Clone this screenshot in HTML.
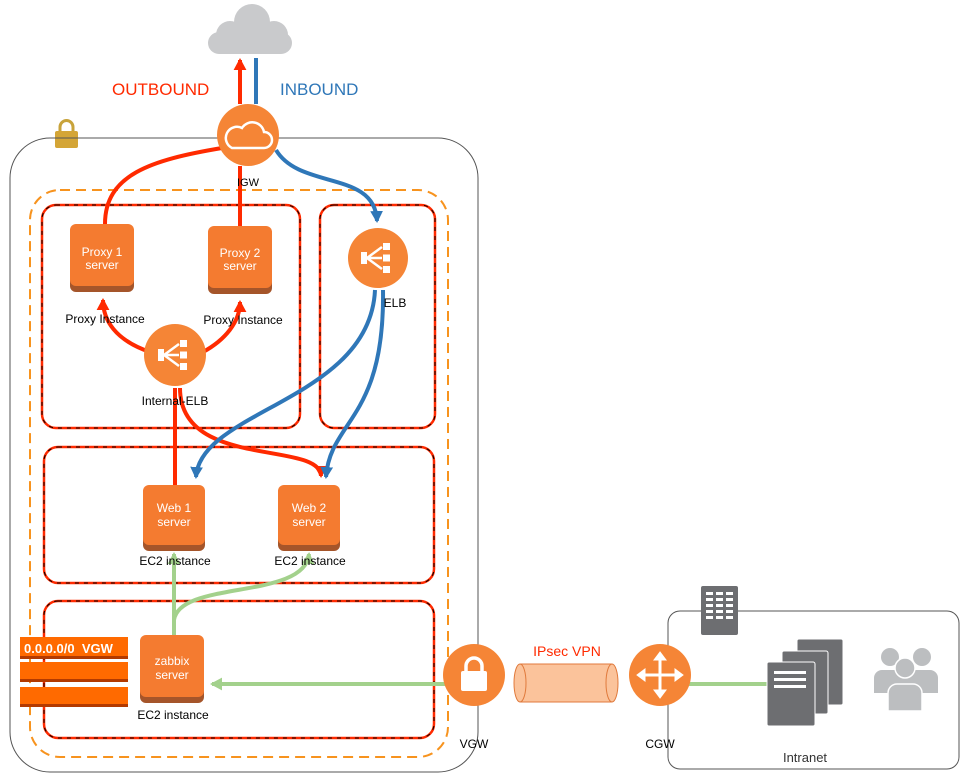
<!DOCTYPE html>
<html><head><meta charset="utf-8"><style>
html,body{margin:0;padding:0;background:#fff;}
svg{display:block;font-family:"Liberation Sans","DejaVu Sans",sans-serif;}
</style></head><body>
<svg width="971" height="781" viewBox="0 0 971 781" xmlns="http://www.w3.org/2000/svg">
<defs>
<marker id="ar" markerWidth="4" markerHeight="4" refX="2.5" refY="1.6" orient="auto" markerUnits="strokeWidth"><path d="M0,0 L3,1.6 L0,3.2 Z" fill="#ff2a00"/></marker>
<marker id="ab" markerWidth="4" markerHeight="4" refX="2.5" refY="1.6" orient="auto" markerUnits="strokeWidth"><path d="M0,0 L3,1.6 L0,3.2 Z" fill="#2f77b8"/></marker>
<marker id="ag" markerWidth="4" markerHeight="4" refX="2.5" refY="1.6" orient="auto" markerUnits="strokeWidth"><path d="M0,0 L3,1.6 L0,3.2 Z" fill="#a3d18c"/></marker>
<g id="lb">
<rect x="-17" y="-6" width="6" height="12" fill="#fff"/>
<path d="M-11,0 L4,-11 M-11,0 L4,0 M-11,0 L4,11" stroke="#fff" stroke-width="2.5" fill="none"/>
<rect x="5" y="-15" width="7" height="7" fill="#fff"/><rect x="5" y="-3.5" width="7" height="7" fill="#fff"/><rect x="5" y="8" width="7" height="7" fill="#fff"/>
</g>
</defs>

<!-- cloud -->
<g fill="#c9cacc">
<circle cx="230" cy="35" r="14"/><circle cx="252" cy="22" r="18"/><circle cx="274" cy="35" r="14"/>
<rect x="208" y="32" width="84" height="22" rx="11"/>
</g>
<text x="112" y="95" fill="#ff2a00" font-size="17">OUTBOUND</text>
<text x="280" y="95" fill="#2f77b8" font-size="17">INBOUND</text>

<!-- lock -->
<path d="M60,132 v-5 a6.5,6.5 0 0 1 13,0 v5" stroke="#c8a33b" stroke-width="3" fill="none"/>
<rect x="55" y="131" width="23" height="17" rx="2" fill="#d4a536"/>

<!-- VPC -->
<rect x="10" y="138" width="468" height="634" rx="40" fill="none" stroke="#555" stroke-width="1"/>
<rect x="30" y="190" width="418" height="567" rx="30" fill="none" stroke="#f7931e" stroke-width="2" stroke-dasharray="10,6"/>
<rect x="668" y="611" width="291" height="158" rx="12" fill="none" stroke="#555" stroke-width="1"/>

<!-- subnets -->
<g fill="none">
<g stroke="#ff2a00" stroke-width="2.5">
<rect x="42" y="205" width="258" height="223" rx="14"/>
<rect x="320" y="205" width="115" height="223" rx="14"/>
<rect x="44" y="447" width="390" height="136" rx="14"/>
<rect x="44" y="601" width="390" height="137" rx="14"/>
</g>
<g stroke="#000" stroke-width="1" stroke-dasharray="4,5">
<rect x="42" y="205" width="258" height="223" rx="14"/>
<rect x="320" y="205" width="115" height="223" rx="14"/>
<rect x="44" y="447" width="390" height="136" rx="14"/>
<rect x="44" y="601" width="390" height="137" rx="14"/>
</g>
</g>

<!-- lines -->
<g fill="none" stroke-width="4">
<path d="M240,104 L240,60" stroke="#ff2a00" marker-end="url(#ar)"/>
<path d="M256,58 L256,104" stroke="#2f77b8"/>
<path d="M222,148 C150,160 105,175 105,224" stroke="#ff2a00"/>
<path d="M240,166 L240,226" stroke="#ff2a00"/>
<path d="M150,352 C115,340 103,320 103,300" stroke="#ff2a00" marker-end="url(#ar)"/>
<path d="M203,352 C225,340 240,322 240,302" stroke="#ff2a00" marker-end="url(#ar)"/>
<path d="M175,485 L175,388" stroke="#ff2a00"/>
<path d="M180,388 C180,470 320,440 321,476" stroke="#ff2a00" marker-end="url(#ar)"/>
<path d="M276,150 C300,190 375,170 377,221" stroke="#2f77b8" marker-end="url(#ab)"/>
<path d="M375,290 C370,400 200,410 196,477" stroke="#2f77b8" marker-end="url(#ab)"/>
<path d="M383,290 C385,420 330,420 326,477" stroke="#2f77b8" marker-end="url(#ab)"/>
<path d="M174,636 L174,554" stroke="#a3d18c" marker-end="url(#ag)"/>
<path d="M174,620 C180,580 305,600 309,554" stroke="#a3d18c" marker-end="url(#ag)"/>
<path d="M448,684 L212,684" stroke="#a3d18c" marker-end="url(#ag)"/>
<path d="M686,684 L770,684" stroke="#a3d18c"/>
</g>

<!-- IGW -->
<circle cx="248" cy="135" r="31" fill="#f58536"/>
<g fill="none" stroke="#fff" stroke-width="2.5"><path d="M232,148 h32 a8,8 0 0 0 0,-16 a12,12 0 0 0 -22,-4 a8,8 0 0 0 -10,20 z"/></g>
<text x="248" y="186" font-size="11" text-anchor="middle">IGW</text>

<!-- servers -->
<g font-size="12" fill="#fff" text-anchor="middle">
<rect x="70" y="228" width="64" height="64" rx="6" fill="#a5552a"/><rect x="70" y="224" width="64" height="62" rx="6" fill="#f47b30"/>
<text x="102" y="256">Proxy 1</text><text x="102" y="269">server</text>
<rect x="208" y="230" width="64" height="64" rx="6" fill="#a5552a"/><rect x="208" y="226" width="64" height="62" rx="6" fill="#f47b30"/>
<text x="240" y="257">Proxy 2</text><text x="240" y="270">server</text>
<rect x="143" y="489" width="62" height="62" rx="6" fill="#a5552a"/><rect x="143" y="485" width="62" height="60" rx="6" fill="#f47b30"/>
<text x="174" y="512">Web 1</text><text x="174" y="526">server</text>
<rect x="278" y="489" width="62" height="62" rx="6" fill="#a5552a"/><rect x="278" y="485" width="62" height="60" rx="6" fill="#f47b30"/>
<text x="309" y="512">Web 2</text><text x="309" y="526">server</text>
<rect x="140" y="639" width="64" height="64" rx="6" fill="#a5552a"/><rect x="140" y="635" width="64" height="62" rx="6" fill="#f47b30"/>
<text x="172" y="665">zabbix</text><text x="172" y="679">server</text>
</g>
<g font-size="12" text-anchor="middle" fill="#000">
<text x="105" y="323">Proxy Instance</text>
<text x="243" y="324">Proxy Instance</text>
<text x="175" y="405">Internal-ELB</text>
<text x="395" y="307">ELB</text>
<text x="175" y="565">EC2 instance</text>
<text x="310" y="565">EC2 instance</text>
<text x="173" y="719">EC2 instance</text>
<text x="474" y="748">VGW</text>
<text x="660" y="748">CGW</text>
</g>
<text x="805" y="762" font-size="13" text-anchor="middle" fill="#333">Intranet</text>

<!-- ELBs -->
<circle cx="175" cy="355" r="31" fill="#f58536"/><use href="#lb" x="175" y="355"/>
<circle cx="378" cy="258" r="30" fill="#f58536"/><use href="#lb" x="378" y="258"/>

<!-- route table -->
<rect x="20" y="639" width="108" height="20" fill="#b33a00"/><rect x="20" y="637" width="108" height="19" fill="#ff6a00"/>
<text x="24" y="653" font-size="13" font-weight="bold" fill="#fff">0.0.0.0/0 &#160;VGW</text>
<rect x="20" y="664" width="108" height="18" fill="#b33a00"/><rect x="20" y="662" width="108" height="17" fill="#ff6a00"/>
<rect x="20" y="689" width="108" height="18" fill="#b33a00"/><rect x="20" y="687" width="108" height="17" fill="#ff6a00"/>

<!-- VGW -->
<circle cx="474" cy="675" r="31" fill="#f58536"/>
<path d="M466,672 v-6 a8,8 0 0 1 16,0 v6" stroke="#fff" stroke-width="3.5" fill="none"/>
<rect x="461" y="671" width="26" height="20" rx="2" fill="#fff"/>

<!-- tube -->
<rect x="520" y="664" width="92" height="38" fill="#fbc39b" stroke="#e07a3c"/>
<ellipse cx="520" cy="683" rx="6" ry="19" fill="#fbc39b" stroke="#e07a3c"/>
<ellipse cx="612" cy="683" rx="6" ry="19" fill="#fbc39b" stroke="#e07a3c"/>
<text x="567" y="656" font-size="14" fill="#ff2a00" text-anchor="middle">IPsec VPN</text>

<!-- CGW -->
<circle cx="660" cy="675" r="31" fill="#f58536"/>
<g stroke="#fff" stroke-width="3" fill="#fff">
<path d="M645,675 h30 M660,660 v30" />
<path d="M660,652 l-6,8 h12 z M660,698 l-6,-8 h12 z M637,675 l8,-6 v12 z M683,675 l-8,-6 v12 z" stroke-width="1"/>
</g>

<!-- building -->
<rect x="701" y="586" width="37" height="49" rx="2" fill="#6d6e71"/>
<g fill="#fff">
<rect x="706" y="592" width="7" height="3"/><rect x="716" y="592" width="7" height="3"/><rect x="726" y="592" width="7" height="3"/>
<rect x="706" y="598" width="7" height="3"/><rect x="716" y="598" width="7" height="3"/><rect x="726" y="598" width="7" height="3"/>
<rect x="706" y="604" width="7" height="3"/><rect x="716" y="604" width="7" height="3"/><rect x="726" y="604" width="7" height="3"/>
<rect x="706" y="610" width="7" height="3"/><rect x="716" y="610" width="7" height="3"/><rect x="726" y="610" width="7" height="3"/>
<rect x="706" y="616" width="7" height="3"/><rect x="716" y="616" width="7" height="3"/><rect x="726" y="616" width="7" height="3"/>
</g>

<!-- server stack -->
<rect x="797" y="639" width="46" height="66" rx="2" fill="#6d6e71" stroke="#fff"/>
<rect x="782" y="651" width="46" height="63" rx="2" fill="#6d6e71" stroke="#fff"/>
<rect x="767" y="662" width="48" height="64" rx="2" fill="#6d6e71" stroke="#fff"/>
<g fill="#fff"><rect x="774" y="671" width="32" height="3"/><rect x="774" y="678" width="32" height="3"/><rect x="774" y="685" width="32" height="3"/></g>

<!-- users -->
<g fill="#bcbec0">
<circle cx="890" cy="657" r="9"/><circle cx="922" cy="657" r="9"/>
<path d="M874,693 v-15 a8,8 0 0 1 8,-8 h16 a8,8 0 0 1 8,8 v15 z"/>
<path d="M906,693 v-15 a8,8 0 0 1 8,-8 h16 a8,8 0 0 1 8,8 v15 z"/>
<circle cx="905" cy="668" r="10" stroke="#fff" stroke-width="1.5"/>
<path d="M888,711 v-18 a9,9 0 0 1 9,-9 h16 a9,9 0 0 1 9,9 v18 z" stroke="#fff" stroke-width="1.5"/>
</g>
</svg>
</body></html>
